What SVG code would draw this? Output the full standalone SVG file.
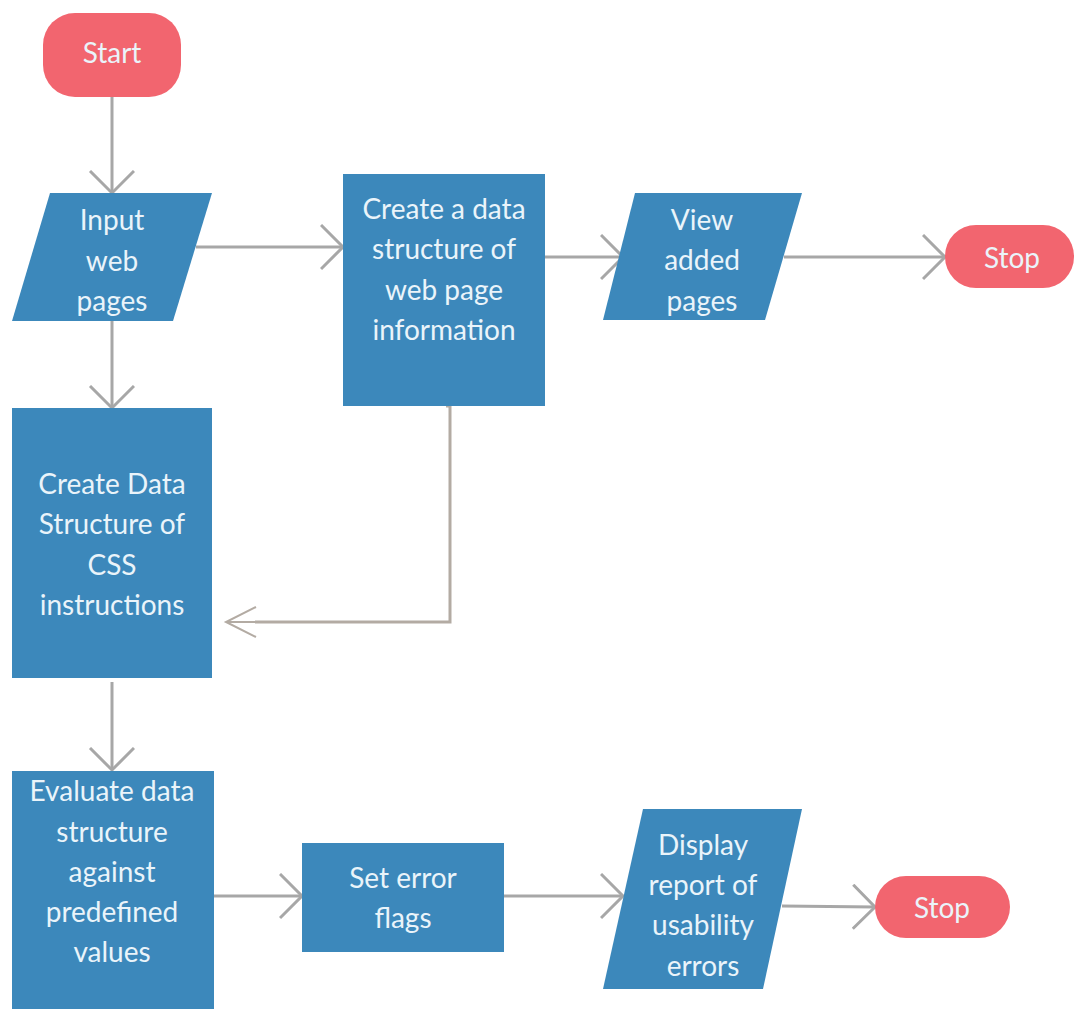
<svg xmlns="http://www.w3.org/2000/svg" width="1075" height="1009" viewBox="0 0 1075 1009">
<style>
.blue{fill:#3c88bb}
.term{fill:#f2656f}
.t{font-family:Lato,"Liberation Sans",sans-serif;font-size:28px;fill:#eaf4fa;text-anchor:middle}
.c{fill:none;stroke:#a7a7a7;stroke-width:3}
.c2{fill:none;stroke:#b3aba3;stroke-width:3}
</style>
<defs>
<marker id="ah" markerWidth="30" markerHeight="50" refX="23" refY="23" orient="auto" markerUnits="userSpaceOnUse">
<path d="M1,1 L23,23 L1,45" fill="none" stroke="#a7a7a7" stroke-width="3"/>
</marker>
</defs>
<rect width="1075" height="1009" fill="#ffffff"/>
<g id="connectors">
<line class="c" x1="112" y1="97" x2="112" y2="193" marker-end="url(#ah)"/>
<line class="c" x1="196" y1="247" x2="343" y2="247" marker-end="url(#ah)"/>
<line class="c" x1="545" y1="257" x2="623" y2="257" marker-end="url(#ah)"/>
<line class="c" x1="784" y1="257" x2="945" y2="257" marker-end="url(#ah)"/>
<line class="c" x1="112" y1="321" x2="112" y2="408" marker-end="url(#ah)"/>
<polyline class="c2" points="446,406 450,406 450,622 255,622"/>
<line x1="255" y1="622" x2="226" y2="622" stroke="#b3aba3" stroke-width="2"/>
<path d="M256,607 L226,622 L256,637" fill="none" stroke="#b3aba3" stroke-width="2"/>
<line class="c" x1="112" y1="682" x2="112" y2="770" marker-end="url(#ah)"/>
<line class="c" x1="214" y1="896" x2="302" y2="896" marker-end="url(#ah)"/>
<line class="c" x1="504" y1="896" x2="623" y2="896" marker-end="url(#ah)"/>
<line class="c" x1="782" y1="906" x2="875" y2="907" marker-end="url(#ah)"/>
</g>
<g id="start">
<rect class="term" x="43" y="13" width="138" height="84" rx="32"/>
<text class="t" x="112" y="63">Start</text>
</g>
<g id="input">
<polygon class="blue" points="50,193 212,193 173,321 12,321"/>
<text class="t" x="112" y="230">Input</text>
<text class="t" x="112" y="271">web</text>
<text class="t" x="112" y="311">pages</text>
</g>
<g id="create-web">
<rect class="blue" x="343" y="174" width="202" height="232"/>
<text class="t" x="444" y="219">Create a data</text>
<text class="t" x="444" y="259">structure of</text>
<text class="t" x="444" y="300">web page</text>
<text class="t" x="444" y="340">information</text>
</g>
<g id="view">
<polygon class="blue" points="635,193 802,193 765,320 603,320"/>
<text class="t" x="702" y="230">View</text>
<text class="t" x="702" y="270">added</text>
<text class="t" x="702" y="311">pages</text>
</g>
<g id="stop1">
<rect class="term" x="945" y="225" width="129" height="63" rx="31"/>
<text class="t" x="1012" y="268">Stop</text>
</g>
<g id="create-css">
<rect class="blue" x="12" y="408" width="200" height="270"/>
<text class="t" x="112" y="494">Create Data</text>
<text class="t" x="112" y="534">Structure of</text>
<text class="t" x="112" y="575">CSS</text>
<text class="t" x="112" y="615">instructions</text>
</g>
<g id="evaluate">
<rect class="blue" x="12" y="771" width="202" height="240"/>
<text class="t" x="112" y="801">Evaluate data</text>
<text class="t" x="112" y="842">structure</text>
<text class="t" x="112" y="882">against</text>
<text class="t" x="112" y="922">predefined</text>
<text class="t" x="112" y="962">values</text>
</g>
<g id="set-flags">
<rect class="blue" x="302" y="843" width="202" height="109"/>
<text class="t" x="403" y="888">Set error</text>
<text class="t" x="403" y="928">flags</text>
</g>
<g id="display">
<polygon class="blue" points="643,809 802,809 763,989 603,989"/>
<text class="t" x="703" y="855">Display</text>
<text class="t" x="703" y="895">report of</text>
<text class="t" x="703" y="935">usability</text>
<text class="t" x="703" y="976">errors</text>
</g>
<g id="stop2">
<rect class="term" x="875" y="876" width="135" height="62" rx="31"/>
<text class="t" x="942" y="918">Stop</text>
</g>
</svg>
